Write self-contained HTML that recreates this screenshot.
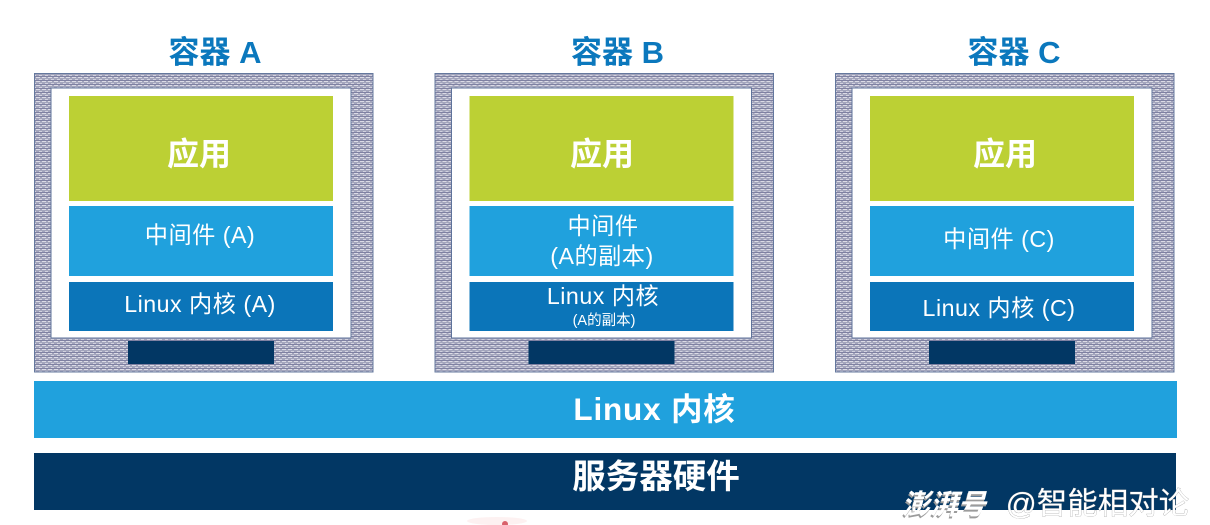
<!DOCTYPE html>
<html><head><meta charset="utf-8"><style>
html,body{margin:0;padding:0;background:#fff}
svg{display:block;filter:blur(.35px)}
text{font-family:"Liberation Sans","Noto Sans CJK SC",sans-serif;text-anchor:middle;fill:#fff}
.t{font-size:31px;font-weight:700;fill:#0b78bd}
.app{font-size:32px;font-weight:700}
.m{font-size:23.2px;letter-spacing:.5px}
</style></head><body>
<svg width="1210" height="525" viewBox="0 0 1210 525" xmlns="http://www.w3.org/2000/svg">
<defs>
<pattern id="b" width="6" height="4" patternUnits="userSpaceOnUse">
<rect width="6" height="4" fill="#a3a5bc"/>
<rect y="0" width="6" height="1" fill="#7f81a2"/>
<rect x="0" y="1" width="4" height="1" fill="#dcdce6"/>
<rect x="3" y="3" width="3" height="1" fill="#d2d2df"/>
</pattern>
<g id="frame">
<rect x="34.5" y="73.5" width="338.500" height="298.500" fill="url(#b)" stroke="#64789e"/>
<rect x="51" y="88" width="300" height="250" fill="#fff" stroke="#5f739b"/>
<rect x="69" y="96" width="264" height="105" fill="#bcd034"/>
<rect x="69" y="206" width="264" height="70" fill="#20a1dd"/>
<rect x="69" y="282" width="264" height="49" fill="#0b75b9"/>
<rect x="128" y="341" width="146" height="23" fill="#023764"/>
</g>
</defs>
<rect width="1210" height="525" fill="#fff"/>
<use href="#frame"/>
<use href="#frame" x="400.500"/>
<use href="#frame" x="801"/>
<text class="t" x="215" y="63">容器 A</text>
<text class="t" x="617.500" y="63">容器 B</text>
<text class="t" x="1014" y="63">容器 C</text>
<text class="app" x="199" y="165">应用</text>
<text class="app" x="602" y="165">应用</text>
<text class="app" x="1005" y="165">应用</text>
<text class="m" x="200" y="243">中间件 (A)</text>
<text class="m" x="200" y="312" letter-spacing="1">Linux 内核 (A)</text>
<text class="m" x="603" y="234">中间件</text>
<text class="m" x="602" y="264">(A的副本)</text>
<text class="m" x="603" y="304" letter-spacing="1">Linux 内核</text>
<text x="604" y="325" font-size="14.5px">(A的副本)</text>
<text class="m" x="999" y="247">中间件 (C)</text>
<text class="m" x="999" y="316" letter-spacing="1">Linux 内核 (C)</text>
<rect x="34" y="381" width="1143" height="57" fill="#20a1dd"/>
<rect x="34" y="453" width="1142" height="57" fill="#023764"/>
<text x="654.500" y="420" font-size="31.5px" font-weight="700" letter-spacing=".8">Linux 内核</text>
<text x="656" y="488" font-size="33.5px" font-weight="700">服务器硬件</text>
<text x="944" y="514" font-size="28px" font-weight="700" font-style="italic" style="fill:#9b9b9b" transform="translate(-1 2)">澎湃号</text>
<text x="944" y="514" font-size="28px" font-weight="700" font-style="italic">澎湃号</text>
<text x="1097.500" y="514" font-size="30.5px" stroke="#8a8a8a" stroke-width=".5" style="paint-order:stroke">@智能相对论</text>
<ellipse cx="497" cy="521" rx="30" ry="4" fill="#fdf1f1"/>
<circle cx="505" cy="524" r="3" fill="#d9616b"/>
</svg>
</body></html>
